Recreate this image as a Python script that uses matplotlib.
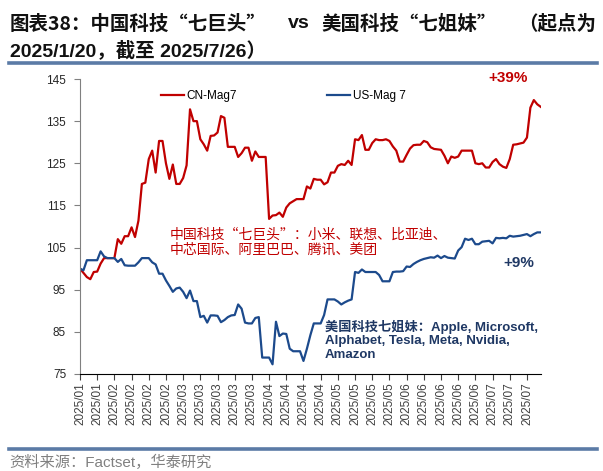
import pandas as pd
import matplotlib
matplotlib.use("Agg")
import matplotlib.pyplot as plt
from matplotlib.lines import Line2D

# trading days 2025/1/20 .. 2025/7/25, one value per weekday
dates = pd.bdate_range("2025-01-20", "2025-07-25")

cn_mag7 = [
    100, 99, 98, 97.5, 99.2, 99.3, 101.2, 102.5, 102.5, 102.5,
    102.5, 107, 105.9, 107.7, 107.7, 109.8, 107.5, 111.4, 120.1, 120.4,
    126, 128, 122.8, 130.3, 130.3, 125, 121.3, 124.7, 120.1, 120.1,
    121.5, 124.5, 137.8, 135, 135, 130.7, 129.5, 128, 131.5, 131.6,
    132.3, 136.2, 135.8, 128.9, 128.9, 128.9, 126.5, 127.4, 128.7, 128.7,
    125.6, 127.8, 126.5, 126.5, 126.5, 111.8, 112.6, 112.7, 113.3, 112.3,
    114.5, 115.5, 116, 116.5, 116.5, 116.5, 119.5, 119, 121.3, 121.1,
    121.1, 120, 120.5, 122.8, 122.8, 124.4, 124.8, 124.6, 125.6, 124.6,
    130.7, 130.5, 131.7, 128.2, 128.2, 129.8, 130.7, 130.5, 130.5, 130.7,
    130.3, 129, 128, 125.4, 125.4, 127, 128.5, 129.3, 129.4, 129.4,
    130.3, 130, 128.8, 128.4, 128.3, 128.2, 126.8, 125, 126.6, 126.3,
    126.6, 128, 128, 128, 128, 125, 124.8, 125, 124, 124,
    125.3, 126, 124.8, 124.2, 123.9, 126, 129.4, 129.5, 129.7, 129.9,
    131.1, 138.2, 140, 139, 138.4,
]

us_mag7 = [
    100, 99.6, 102, 102, 102, 102, 104.1, 102.9, 102.5, 102.5,
    102.5, 101.6, 102.3, 100.8, 100.7, 100.7, 100.7, 101.5, 102.5, 102.5,
    102.5, 101.5, 101, 98.8, 98.8, 97.2, 95.9, 94.5, 95.3, 95.5,
    94.5, 93, 94.8, 92.3, 92.3, 88.5, 88.8, 87.2, 88.9, 88.9,
    88.8, 87.3, 87.8, 88.5, 88.9, 89, 91.5, 90.5, 87.2, 87,
    87, 88.3, 88.5, 78.9, 78.9, 78.9, 77.3, 87.4, 84, 84.6,
    84.5, 81, 80.4, 80.4, 80.4, 78.1, 81, 84.2, 87, 87,
    87, 89, 92.7, 92.7, 92.7, 92.2, 91.5, 92, 92.4, 92.7,
    99.2, 99, 99.8, 99.2, 99.2, 99.2, 99.2, 98.5, 97, 97,
    97, 99.2, 99.3, 99.3, 99.4, 100.5, 100.4, 101.1, 101.6, 102,
    102.3, 102.5, 102.7, 102.6, 103.1, 102.5, 103, 102.6, 102.5, 102.4,
    104.3, 105.1, 107.1, 106.8, 107.1, 105.8, 105.8, 106.4, 106.5, 106.6,
    106, 107.3, 107.2, 107.3, 107.2, 107.8, 107.6, 107.7, 107.8, 108,
    108.2, 107.7, 108.2, 108.6, 108.6,
]

series_names = ["CN-Mag7", "US-Mag 7"]
y_ticks = [75, 85, 95, 105, 115, 125, 135, 145]
tick_step = 5

RED = "#c00000"
BLUE = "#1c4a8c"
NAVY = "#1f3864"
MIXED = ["Liberation Sans", "Noto Sans CJK SC"]
CJK = ["Noto Sans CJK SC", "Liberation Sans"]

W, H = 603, 471
fig = plt.figure(figsize=(W / 100, H / 100), dpi=100)


def fx(px):
    return px / W


def fy(py):
    return 1 - py / H


ax = fig.add_axes([fx(80), fy(374), (540.7 - 80) / W, (374 - 79) / H])

x = list(range(len(dates)))
ax.plot(x, cn_mag7, color=RED, lw=1.6)
ax.plot(x, us_mag7, color=BLUE, lw=1.6)

ax.set_xlim(0, len(dates) - 1)
ax.set_ylim(y_ticks[0], y_ticks[-1])
ax.set_yticks(y_ticks)
ax.set_xticks(x[::tick_step])
ax.set_xticklabels(dates[::tick_step].strftime("%Y/%m"), rotation=90,
                   fontsize=8.5, family="Liberation Sans", color="#404040")
for lab in ax.get_yticklabels():
    lab.set_family("Liberation Sans")
    lab.set_fontsize(8.5)
    lab.set_color("#262626")
ax.tick_params(axis="both", direction="out", length=4, width=0.8)
ax.tick_params(axis="x", pad=2, color="#404040")
ax.tick_params(axis="y", pad=6, color="#808080")
for side in ["top", "right"]:
    ax.spines[side].set_visible(False)
ax.spines["left"].set_color("#808080")
ax.spines["bottom"].set_color("#000000")
ax.spines["left"].set_linewidth(0.8)
ax.spines["bottom"].set_linewidth(0.8)

handles = [Line2D([], [], color=RED, lw=1.6), Line2D([], [], color=BLUE, lw=1.6)]
fig.legend(handles, series_names, loc="center left", ncol=2,
           bbox_to_anchor=(fx(161), fy(96)), frameon=False,
           prop={"family": "Liberation Sans", "size": 8.5},
           handlelength=1.95, handletextpad=0.2, columnspacing=7.65,
           borderpad=0, borderaxespad=0)

# title
tkw = dict(fontsize=14, fontweight="bold", va="center", color="#111111")
fig.text(fx(10), fy(24), "图表38：中国科技“七巨头”", family=CJK, **tkw)
fig.text(fx(288), fy(24), "vs", family=MIXED, **tkw)
fig.text(fx(321), fy(24), "美国科技“七姐妹”", family=CJK, **tkw)
fig.text(fx(596), fy(24), "（起点为", family=CJK, ha="right", **tkw)
fig.text(fx(10), fy(50), "2025/1/20，截至 2025/7/26）", family=MIXED, **tkw)

# rules
fig.add_artist(Line2D([fx(9), fx(597)], [fy(63), fy(63)], color="#5b7ba6", lw=2.6))
fig.add_artist(Line2D([fx(9), fx(597)], [fy(449), fy(449)], color="#5b7ba6", lw=2.6))

# source
fig.text(fx(9), fy(470), "资料来源：Factset，华泰研究", family=MIXED, fontsize=11,
         color="#808080", va="bottom")

# annotations
fig.text(fx(488), fy(78), "+39%", color=RED, fontsize=11, fontweight="bold",
         family="Liberation Sans", va="center")
fig.text(fx(503), fy(263), "+9%", color=NAVY, fontsize=11, fontweight="bold",
         family="Liberation Sans", va="center")
fig.text(fx(170), fy(228), "中国科技“七巨头”：小米、联想、比亚迪、\n中芯国际、阿里巴巴、腾讯、美团",
         color=RED, fontsize=10, family=CJK, va="top", linespacing=1.1)
fig.text(fx(325), fy(320), "美国科技七姐妹：Apple, Microsoft,\nAlphabet, Tesla, Meta, Nvidia,\nAmazon",
         color=NAVY, fontsize=9.5, fontweight="bold", family=MIXED, va="top",
         linespacing=1.15)

fig.savefig("out.png", dpi=100)
